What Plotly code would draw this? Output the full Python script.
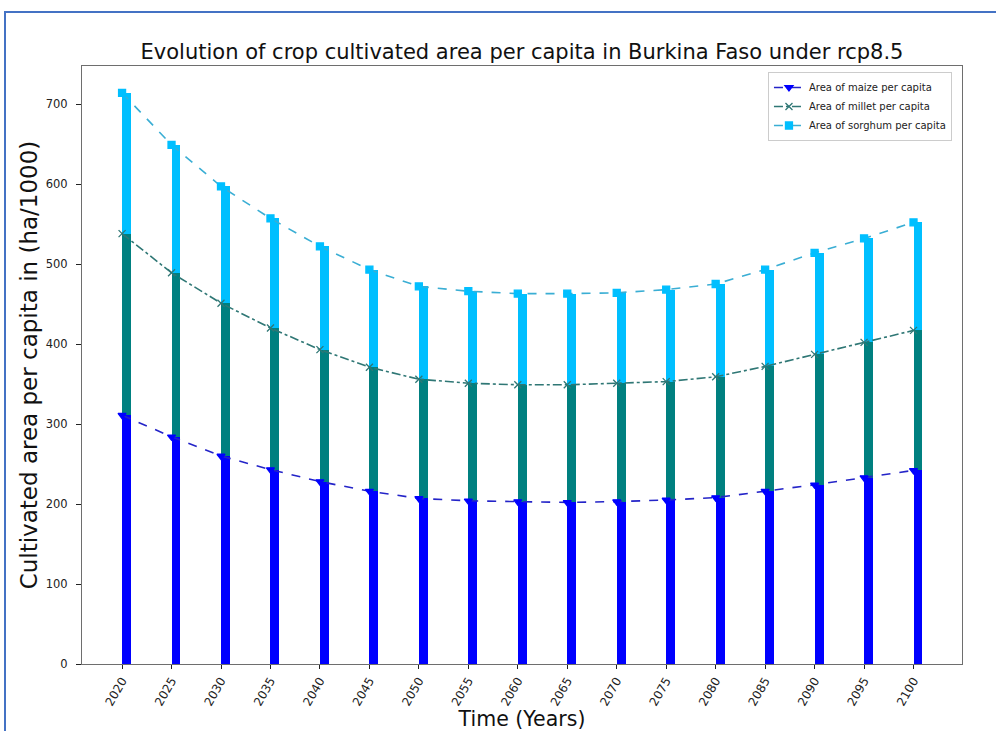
import numpy as np
import plotly.graph_objects as go

# Cultivated area per capita (ha/1000), Burkina Faso, rcp8.5
years = [2020, 2025, 2030, 2035, 2040, 2045, 2050, 2055, 2060,
         2065, 2070, 2075, 2080, 2085, 2090, 2095, 2100]
maize = [311, 284, 260, 243, 228, 216, 207, 204, 203,
         202, 203, 205, 208, 216, 224, 233, 242]
millet = [227, 205, 191, 177, 165, 155, 149, 147, 146,
          147, 148, 148, 151, 156, 163, 169, 175]
sorghum = [176, 160, 146, 137, 129, 122, 116, 115, 114,
           114, 113, 115, 116, 121, 127, 130, 135]

labels = ["Area of maize per capita", "Area of millet per capita",
          "Area of sorghum per capita"]
bar_colors = ["#0000FF", "#008080", "#00BFFF"]
line_colors = ["#2424C8", "#2F7775", "#3AAED4"]
dashes = ["dash", "dashdot", "dash"]
symbols = ["triangle-down", "x-thin-open", "square"]

series = [maize, millet, sorghum]
tops = np.cumsum(np.array(series, dtype=float), axis=0)

fig = go.Figure()

# Stacked bars, left edge aligned on each year
for vals, col in zip(series, bar_colors):
    fig.add_trace(go.Bar(
        x=years, y=vals, width=0.9, offset=0,
        marker=dict(color=col, line=dict(width=0)),
        showlegend=False, hoverinfo="skip",
    ))

# Lines through the top of each stacked segment
for i in range(3):
    fig.add_trace(go.Scatter(
        x=years, y=tops[i], mode="lines+markers", name=labels[i],
        line=dict(color=line_colors[i], dash=dashes[i], width=1.6),
        marker=dict(symbol=symbols[i], size=7,
                    color=bar_colors[i] if i != 1 else line_colors[i],
                    line=dict(width=1.3, color=line_colors[i] if i == 1 else bar_colors[i])),
    ))

font_family = "DejaVu Sans"
axis_col = "#6e6e6e"

fig.update_layout(
    width=996, height=731,
    barmode="stack", bargap=0,
    paper_bgcolor="white", plot_bgcolor="white",
    margin=dict(l=82, r=34, t=66, b=67),
    font=dict(family=font_family, color="#222222"),
    title=dict(
        text="Evolution of crop cultivated area per capita in Burkina Faso under rcp8.5",
        x=(82 + 880 / 2) / 996, xanchor="center",
        y=1 - 52 / 731, yanchor="middle",
        font=dict(size=21, family=font_family, color="#111111"),
    ),
    legend=dict(
        x=0.9886, y=0.99, xanchor="right", yanchor="top",
        bgcolor="white", bordercolor="#cccccc", borderwidth=1,
        font=dict(size=10, family=font_family),
        tracegroupgap=0, itemwidth=30, traceorder="normal",
    ),
    showlegend=True,
)

fig.update_xaxes(
    range=[2015.95, 2104.9], automargin=False,
    tickvals=years, ticktext=[str(y) for y in years],
    tickangle=-60, tickfont=dict(size=12, family=font_family, color="#222222"),
    ticks="outside", ticklen=4, tickcolor="#222222",
    showgrid=False, zeroline=False,
    showline=True, linecolor=axis_col, linewidth=1.2, mirror=True,
    title=dict(text="Time (Years)", font=dict(size=20.5, family=font_family, color="#111111"),
               standoff=2),
)
fig.update_yaxes(
    range=[0, 747.5], automargin=False,
    tickvals=[0, 100, 200, 300, 400, 500, 600, 700],
    tickfont=dict(size=11.5, family=font_family, color="#222222"),
    ticks="outside", ticklen=5, tickcolor="#222222", ticklabelstandoff=6,
    showgrid=False, zeroline=False,
    showline=True, linecolor=axis_col, linewidth=1.2, mirror=True,
    title=dict(text="Cultivated area per capita in (ha/1000)",
               font=dict(size=23, family=font_family, color="#111111"), standoff=1),
)

# Blue frame around the figure
fig.add_shape(
    type="rect", xref="paper", yref="paper",
    x0=(5 - 82) / 880, x1=(1010 - 82) / 880,
    y0=(664 - 745) / 598, y1=(664 - 12) / 598,
    line=dict(color="#4472C4", width=2), fillcolor="rgba(0,0,0,0)", layer="above",
)

fig.write_html("out.html")
